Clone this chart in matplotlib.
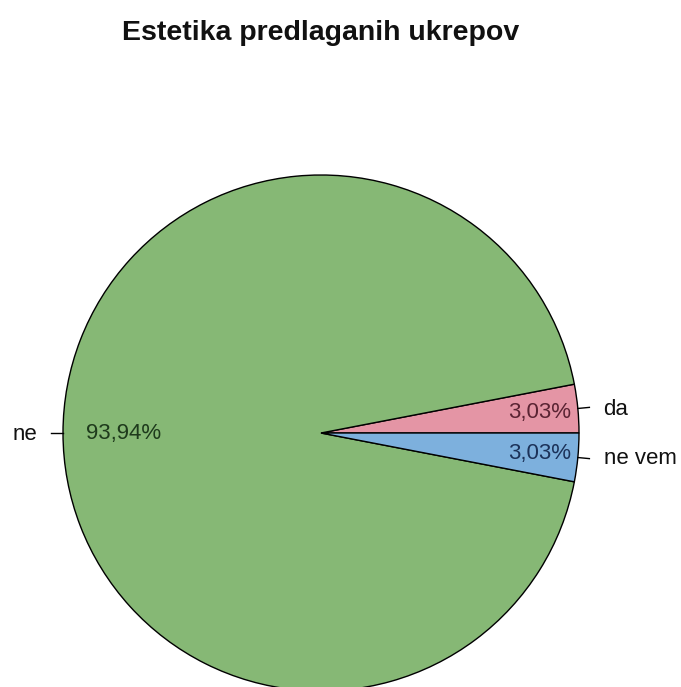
import numpy as np
import matplotlib
matplotlib.use("Agg")
import matplotlib.pyplot as plt
from matplotlib.patches import Wedge

title = "Estetika predlaganih ukrepov"
categories = ["da", "ne", "ne vem"]
values = [3.03, 93.94, 3.03]
colors = ["#E495A5", "#86B875", "#7DB0DD"]
text_colors = ["#5a2433", "#1e3a1c", "#1c3259"]

plt.rcParams['font.family'] = ['Liberation Sans', 'DejaVu Sans']

W, H = 681, 687
fig = plt.figure(figsize=(W/100, H/100), dpi=100)
ax = fig.add_axes([0, 0, 1, 1])
cx, cy = 321, 433
R = 258
ax.set_xlim(-cx, W - cx)
ax.set_ylim(-(H - cy), cy)
ax.set_aspect('equal')
ax.axis('off')

total = sum(values)
start = 0.0
for cat, v, col, tcol in zip(categories, values, colors, text_colors):
    ext = 360.0 * v / total
    ax.add_patch(Wedge((0, 0), R, start, start + ext, facecolor=col,
                       edgecolor='black', linewidth=1.0))
    mid = np.deg2rad(start + ext / 2)
    c, s = np.cos(mid), np.sin(mid)
    ax.plot([R * c, 1.045 * R * c], [R * s, 1.045 * R * s], color='black', lw=1)
    ax.text(1.1 * R * c, 1.0 * R * s - 1, cat, ha='left' if c > 0 else 'right',
            va='center', fontsize=16, color='#111111')
    pct = f"{v:.2f}".replace('.', ',') + "%"
    if c > 0:
        ax.text(0.975 * R * c, 0.82 * R * s, pct, ha='right', va='center',
                fontsize=16, color=tcol)
    else:
        ax.text(0.91 * R * c, 0.91 * R * s, pct, ha='left', va='center',
                fontsize=16, color=tcol)
    start += ext

fig.text(321 / W, 1 - 33 / H, title, ha='center', va='center',
         fontsize=20.5, fontweight='bold', color='#111111')

fig.savefig("out.png", dpi=100, facecolor='white')
